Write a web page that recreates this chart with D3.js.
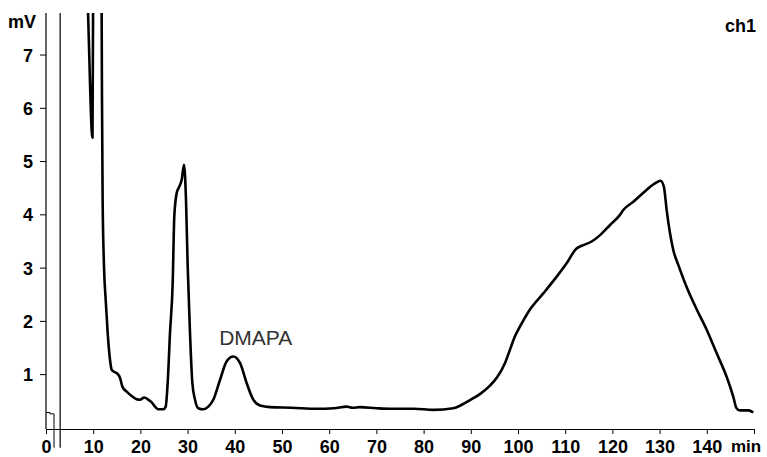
<!DOCTYPE html>
<html>
<head>
<meta charset="utf-8">
<script src="https://cdn.jsdelivr.net/npm/d3@7"></script>
<style>
  html, body { margin: 0; padding: 0; background: #fff; }
  svg { display: block; }
</style>
</head>
<body>
<svg id="chart" width="767" height="457"></svg>
<script>
// ---- data ----
const timeMin = [8.6, 8.9, 9.85, 10.0, 10.6, 11.5, 11.79, 11.86, 12.0, 12.29, 12.65, 13.07, 13.56, 13.92, 14.5, 14.98, 15.68, 16.17, 17.1, 18.16, 19.2, 19.9, 20.83, 21.67, 22.4, 23.1, 23.8, 24.85, 25.36, 25.78, 26.27, 26.84, 27.18, 27.69, 28.24, 28.75, 29.24, 29.66, 30.02, 30.51, 31.0, 31.57, 32.27, 33.33, 34.39, 35.44, 36.86, 38.28, 39.68, 41.1, 42.52, 43.92, 45.34, 47.46, 52, 57.35, 61, 63.7, 65, 66.5, 70, 72.9, 78, 82.1, 86.3, 88, 90, 92, 94, 95.5, 97.25, 98.3, 99.36, 100.4, 102.5, 105.4, 108.2, 110.3, 112.4, 113.5, 115.6, 117.4, 119.5, 121.6, 122.3, 124.5, 126.5, 129.0, 130.2, 130.9, 131.5, 132.2, 132.9, 133.96, 135.7, 137.9, 140.0, 142.1, 144.2, 145.6, 146.3, 147.0, 148.8, 149.85];
const signalMV = [8.6, 7.8, 5.44, 8.5, 12, 12, 7.78, 6.2, 4.27, 3.02, 2.39, 1.77, 1.27, 1.08, 1.04, 1.02, 0.93, 0.77, 0.67, 0.59, 0.53, 0.52, 0.56, 0.52, 0.47, 0.39, 0.34, 0.34, 0.39, 0.84, 1.77, 2.71, 3.96, 4.40, 4.52, 4.65, 4.93, 4.27, 3.02, 1.77, 0.84, 0.52, 0.36, 0.34, 0.39, 0.52, 0.89, 1.24, 1.33, 1.21, 0.83, 0.52, 0.41, 0.38, 0.37, 0.35, 0.36, 0.39, 0.37, 0.38, 0.36, 0.35, 0.35, 0.33, 0.36, 0.42, 0.52, 0.63, 0.78, 0.93, 1.21, 1.46, 1.71, 1.89, 2.21, 2.52, 2.83, 3.08, 3.36, 3.41, 3.49, 3.61, 3.80, 3.99, 4.08, 4.24, 4.40, 4.58, 4.63, 4.52, 4.08, 3.65, 3.33, 3.05, 2.64, 2.21, 1.83, 1.39, 0.95, 0.58, 0.36, 0.32, 0.32, 0.28];
// thin auxiliary trace at the start of the run
const auxTimeMin = [0, 0.85, 0.85, 1.7, 1.7];
const auxSignalMV = [0.28, 0.28, 0.255, 0.255, -0.38];
// injection marker
const markerTimeMin = [3.0];
const markerRangeMV = [-0.38, 7.78];

const xTicks = [0, 10, 20, 30, 40, 50, 60, 70, 80, 90, 100, 110, 120, 130, 140, 150];
const xTickLabels = ["0", "10", "20", "30", "40", "50", "60", "70", "80", "90", "100", "110", "120", "130", "140", ""];
const yTicks = [1, 2, 3, 4, 5, 6, 7];
const peakLabel = { text: "DMAPA", t: 36.9, v: 1.55 };
const yUnit = "mV", xUnit = "min", channel = "ch1";

// ---- scales ----
const svg = d3.select("#chart");
const x = d3.scaleLinear().domain([0, 150]).range([46, 754]);
const y = d3.scaleLinear().domain([-0.03, 7.78]).range([429, 13]);

const font = "'Liberation Sans', Arial, sans-serif";

svg.append("defs").append("clipPath").attr("id", "clipTop")
  .append("rect").attr("x", 0).attr("y", y(7.78)).attr("width", 767).attr("height", 457);

// axes
const xAxis = d3.axisBottom(x).tickValues(xTicks).tickSize(5).tickSizeOuter(0)
  .tickFormat((d, i) => xTickLabels[i]);
const gx = svg.append("g").attr("transform", `translate(0,${y.range()[0]})`).call(xAxis);
gx.select(".domain").attr("stroke", "#000").attr("stroke-width", 1.2);
gx.selectAll(".tick line").attr("stroke", "#000");
gx.selectAll(".tick text").attr("font-family", font).attr("font-weight", "bold")
  .attr("font-size", 18).attr("fill", "#000").attr("dy", "1em").attr("y", 6);

const yAxis = d3.axisLeft(y).tickValues(yTicks).tickSize(6).tickSizeOuter(0).tickFormat(d3.format("d"));
const gy = svg.append("g").attr("transform", `translate(${x(0)},0)`).call(yAxis);
gy.select(".domain").attr("stroke", "#000").attr("stroke-width", 1.2)
  .attr("d", `M0,${y.range()[0]}V${y.range()[1]}`);
gy.selectAll(".tick line").attr("stroke", "#000");
gy.selectAll(".tick text").attr("font-family", font).attr("font-weight", "bold")
  .attr("font-size", 18).attr("fill", "#000").attr("x", -13).attr("dy", "0.36em");

// unit labels
svg.append("text").attr("x", 8).attr("y", 28).text(yUnit)
  .attr("font-family", font).attr("font-weight", "bold").attr("font-size", 18);
svg.append("text").attr("x", 731).attr("y", 452).text(xUnit)
  .attr("font-family", font).attr("font-weight", "bold").attr("font-size", 17);
svg.append("text").attr("x", 756).attr("y", 32).attr("text-anchor", "end").text(channel)
  .attr("font-family", font).attr("font-weight", "bold").attr("font-size", 18);

// auxiliary thin trace and marker
const line = d3.line().x(d => x(d[0])).y(d => y(d[1]));
svg.append("path").datum(auxTimeMin.map((t, i) => [t, auxSignalMV[i]]))
  .attr("d", line).attr("fill", "none").attr("stroke", "#000").attr("stroke-width", 1);
svg.selectAll(".marker").data(markerTimeMin).enter().append("line")
  .attr("class", "marker")
  .attr("x1", d => x(d)).attr("x2", d => x(d))
  .attr("y1", y(markerRangeMV[1])).attr("y2", y(markerRangeMV[0]))
  .attr("stroke", "#000").attr("stroke-width", 1.2);

// main trace
const traceLine = d3.line().x(d => x(d[0])).y(d => y(d[1])).curve(d3.curveMonotoneX);
svg.append("path").datum(timeMin.map((t, i) => [t, signalMV[i]]))
  .attr("clip-path", "url(#clipTop)")
  .attr("d", traceLine).attr("fill", "none").attr("stroke", "#000")
  .attr("stroke-width", 2.6).attr("stroke-linejoin", "round");

// peak label
svg.append("text").attr("x", x(peakLabel.t) - 1).attr("y", y(peakLabel.v)).text(peakLabel.text)
  .attr("font-family", font).attr("font-size", 21).attr("fill", "#333");
</script>
</body>
</html>
